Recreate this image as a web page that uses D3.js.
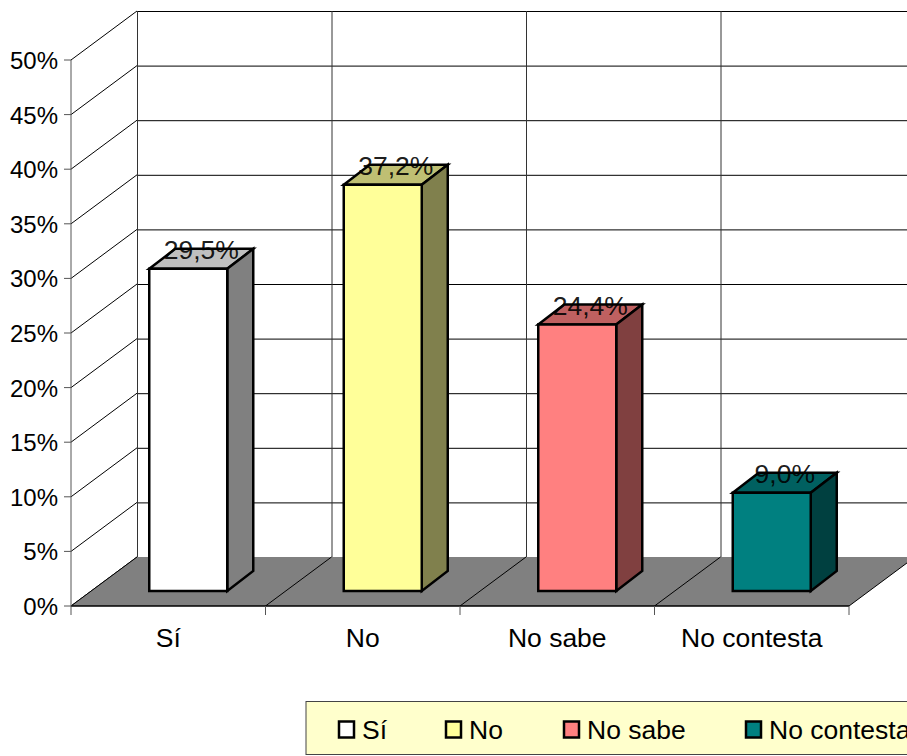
<!DOCTYPE html>
<html><head><meta charset="utf-8">
<script src="https://cdn.jsdelivr.net/npm/d3@7"></script>
<style>html,body{margin:0;padding:0;background:#fff;overflow:hidden}svg{display:block}text{font-family:"Liberation Sans",Arial,sans-serif;fill:#000}</style>
</head><body><svg id="c" width="907" height="756"></svg>
<script>
const categories=["Sí","No","No sabe","No contesta"];
const values=[29.5,37.2,24.4,9.0];
const valueLabels=["29,5%","37,2%","24,4%","9,0%"];
const fills=["#FFFFFF","#FFFF99","#FF8080","#008080"];
const tops=["#BFBFBF","#BFBF73","#BF6060","#006060"];
const sides=["#808080","#80804D","#804040","#004040"];
const yTicks=[0,5,10,15,20,25,30,35,40,45,50];
const legendX=[339,446,564,746];

const svg=d3.select("#c");
const y=d3.scaleLinear().domain([0,50]).range([606,60]);
const x=d3.scaleBand().domain(categories).range([71,849]);
const wallDX=66,wallDY=-49,barDX0=20,barDY0=-15,barDX=26,barDY=-20,barW=78;
const poly=(pts,fill,stroke,sw)=>svg.append("polygon").attr("points",pts.map(p=>p.join(",")).join(" ")).attr("fill",fill).attr("stroke",stroke||"none").attr("stroke-width",sw||0).attr("stroke-linejoin","miter");
const line=(a,b,c,w)=>svg.append("line").attr("x1",a[0]).attr("y1",a[1]).attr("x2",b[0]).attr("y2",b[1]).attr("stroke",c).attr("stroke-width",w||1);

// walls
const xEdges=categories.map(c=>x(c)).concat([849]);
yTicks.forEach(t=>{
  line([x(categories[0])+wallDX,y(t)+wallDY+.5],[849+wallDX,y(t)+wallDY+.5],"#000");
  line([71,y(t)],[71+wallDX,y(t)+wallDY],"#000");
});
xEdges.forEach(e=>line([e+wallDX+.5,y(0)+wallDY],[e+wallDX+.5,y(50)+wallDY],"#333"));
// floor
poly([[71,y(0)],[849,y(0)],[849+wallDX,y(0)+wallDY],[71+wallDX,y(0)+wallDY]],"#808080");
xEdges.forEach(e=>line([e,y(0)],[e+wallDX,y(0)+wallDY],"#000"));
line([71,y(0)],[849,y(0)],"#000",1.5);
// axes
line([71,y(0)],[71,y(50)],"#555");
yTicks.forEach(t=>{
  line([64,y(t)],[71,y(t)],"#555");
  svg.append("text").attr("x",58).attr("y",y(t)+9).attr("text-anchor","end").attr("font-size",24).text(t+"%");
});
xEdges.forEach(e=>line([e,y(0)],[e,y(0)+9],"#555"));
categories.forEach(c=>svg.append("text").attr("x",x(c)+x.bandwidth()/2).attr("y",647).attr("text-anchor","middle").attr("font-size",26.5).text(c));
// bars
categories.forEach((c,i)=>{
  const l=x(c)+barDX0+(x.bandwidth()-barW)/2, r=l+barW;
  const b=y(0)+barDY0, t=y(values[i])+barDY0;
  poly([[l,t],[r,t],[r+barDX,t+barDY],[l+barDX,t+barDY]],tops[i],"#000",2.5);
  poly([[r,t],[r+barDX,t+barDY],[r+barDX,b+barDY],[r,b]],sides[i],"#000",2.5);
  poly([[l,t],[r,t],[r,b],[l,b]],fills[i],"#000",2.5);
  svg.append("text").attr("x",l+52).attr("y",t-10).attr("text-anchor","middle").attr("font-size",26.5).attr("fill-opacity",.9).text(valueLabels[i]);
});
// legend
svg.append("rect").attr("x",306).attr("y",701.5).attr("width",640).attr("height",53).attr("fill","#FFFFCC").attr("stroke","#444");
categories.forEach((c,i)=>{
  svg.append("rect").attr("x",legendX[i]).attr("y",721.5).attr("width",15).attr("height",16).attr("fill",fills[i]).attr("stroke","#000").attr("stroke-width",2.5);
  svg.append("text").attr("x",legendX[i]+23).attr("y",739).attr("font-size",26.5).text(c);
});
</script></body></html>
